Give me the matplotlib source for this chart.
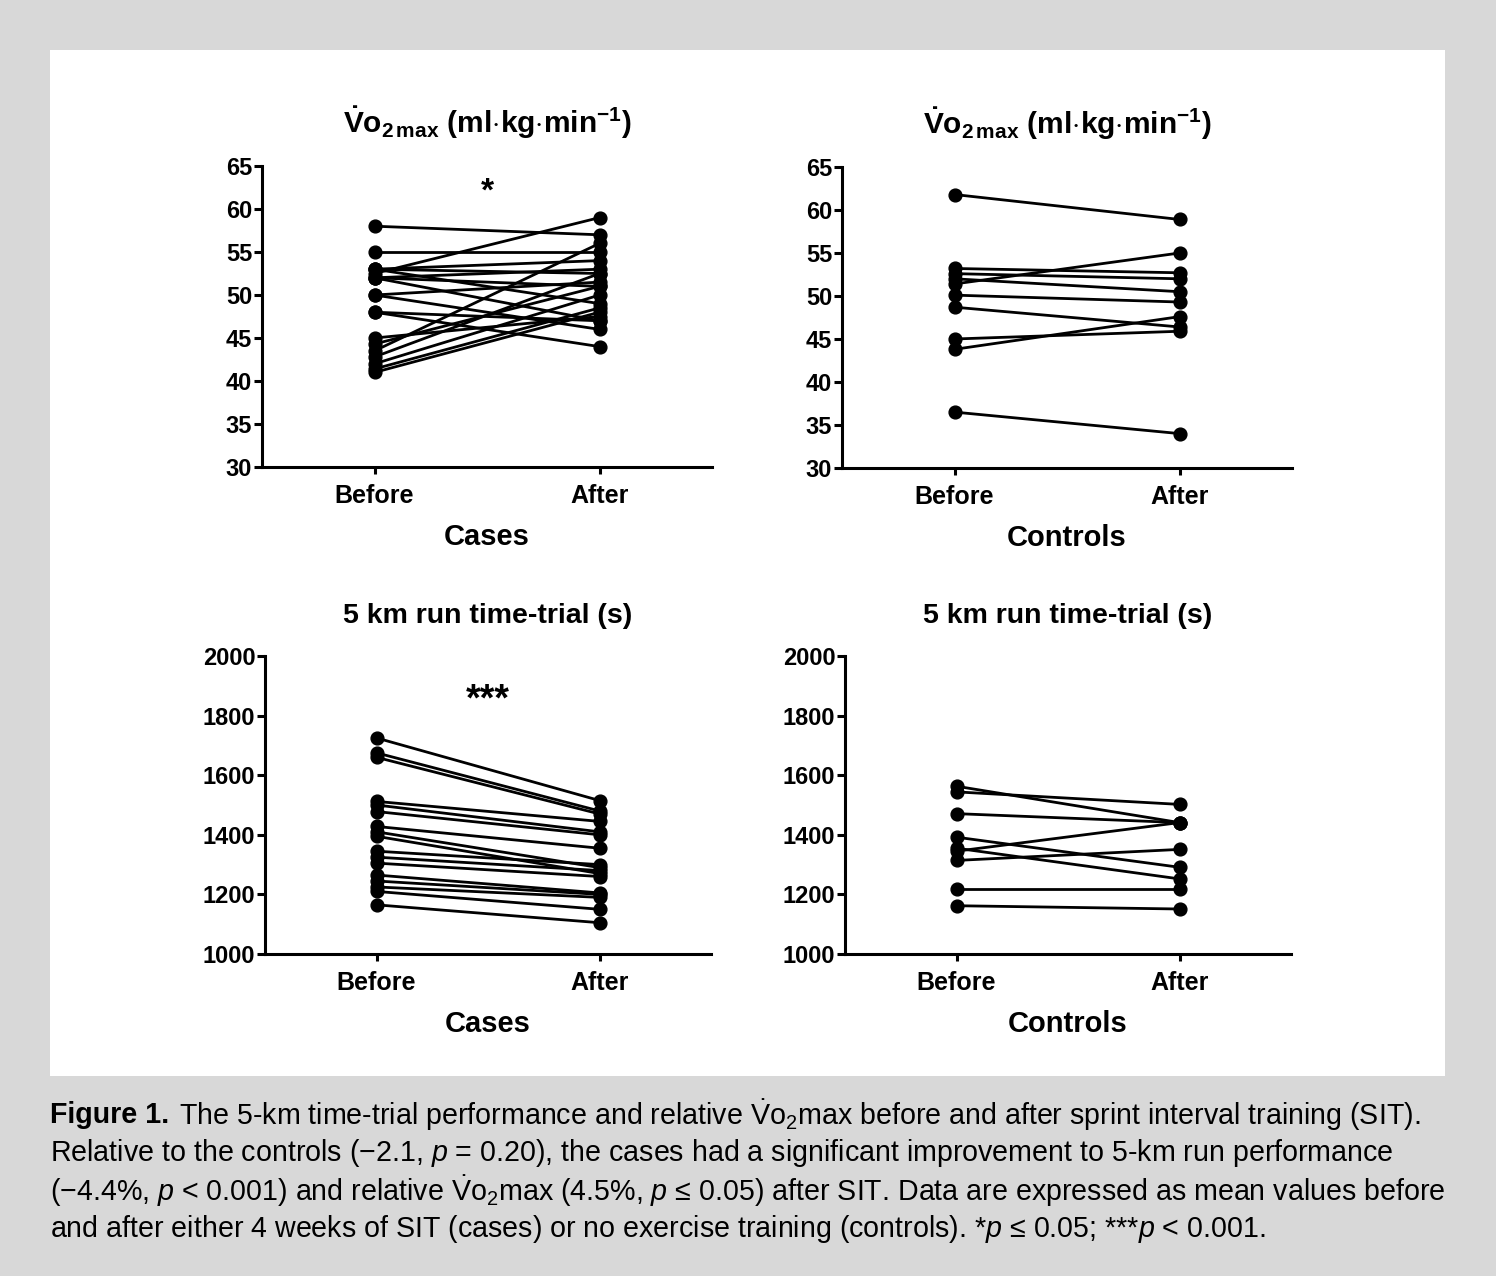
import matplotlib
matplotlib.use("Agg")
import matplotlib.pyplot as plt
from matplotlib.patches import Rectangle

plt.rcParams['font.family'] = ['Liberation Sans', 'DejaVu Sans']
plt.rcParams['mathtext.fontset'] = 'custom'
plt.rcParams['mathtext.rm'] = 'Liberation Sans'
plt.rcParams['mathtext.it'] = 'Liberation Sans:italic'
plt.rcParams['mathtext.bf'] = 'Liberation Sans:bold'
plt.rcParams['mathtext.sf'] = 'Liberation Sans'

# ---------------- data ----------------
timepoints = ["Before", "After"]

cases_vo2_before = [58, 55, 53, 53, 52.5, 52, 52, 52, 53, 50, 50, 48, 48,
                    45, 44.3, 43.5, 42.8, 42, 41.4, 41]
cases_vo2_after = [57, 55, 54, 52.5, 59, 51, 53, 47, 49, 51.5, 46, 44, 47,
                   47.5, 51, 56, 52.5, 50, 48.5, 48]

controls_vo2_before = [61.8, 53.2, 52.6, 52.0, 51.4, 50.1, 48.7, 45.0, 43.8, 36.5]
controls_vo2_after = [58.9, 52.7, 52.0, 50.5, 55.0, 49.3, 46.4, 45.9, 47.6, 34.0]

cases_run_before = [1725, 1675, 1660, 1512, 1500, 1478, 1428, 1410, 1395, 1345,
                    1325, 1305, 1265, 1245, 1225, 1210, 1165]
cases_run_after = [1515, 1480, 1470, 1445, 1410, 1400, 1355, 1290, 1270, 1300,
                   1280, 1260, 1205, 1200, 1190, 1150, 1105]

controls_run_before = [1563, 1544, 1471, 1392, 1355, 1345, 1314, 1219, 1162]
controls_run_after = [1441, 1502, 1441, 1291, 1252, 1441, 1351, 1219, 1151]

vo2_ticks = [30, 35, 40, 45, 50, 55, 60, 65]
run_ticks = [1000, 1200, 1400, 1600, 1800, 2000]

vo2_title = r'$\mathbf{\dot{V}o_{2\,max}\ (ml{\cdot}kg{\cdot}min^{-1})}$'
run_title = "5 km run time-trial (s)"

caption_head = "Figure 1."
caption_lines = [
    r"The 5-km time-trial performance and relative $\dot{\mathrm{V}}\mathrm{o}_2$max before and after sprint interval training (SIT).",
    r"Relative to the controls (−2.1, $p$ = 0.20), the cases had a significant improvement to 5-km run performance",
    r"(−4.4%, $p$ < 0.001) and relative $\dot{\mathrm{V}}\mathrm{o}_2$max (4.5%, $p$ ≤ 0.05) after SIT. Data are expressed as mean values before",
    r"and after either 4 weeks of SIT (cases) or no exercise training (controls). *$p$ ≤ 0.05; ***$p$ < 0.001.",
]

W, H = 1496, 1276
fig = plt.figure(figsize=(W / 100, H / 100), dpi=100)
fig.patch.set_facecolor('#d8d8d8')
fig.patches.append(Rectangle((50 / W, 1 - 1076 / H), (1445 - 50) / W, (1076 - 50) / H,
                             transform=fig.transFigure, facecolor='white',
                             edgecolor='none', zorder=-5))


def px_axes(x0, y0, x1, y1):
    return fig.add_axes([x0 / W, 1 - y1 / H, (x1 - x0) / W, (y1 - y0) / H])


def panel(ax, before, after, ylim, ticks, title, xlabel, title_fs,
          star=None, star_y=None, star_fs=22):
    for b, a in zip(before, after):
        ax.plot([0, 1], [b, a], color='black', lw=2.0, marker='o', ms=9.2,
                clip_on=False, zorder=3)
    ax.set_xlim(-0.5, 1.5)
    ax.set_ylim(*ylim)
    ax.set_yticks(ticks)
    ax.set_xticks([0, 1])
    ax.set_xticklabels(timepoints)
    for s in ['top', 'right']:
        ax.spines[s].set_visible(False)
    for s in ['left', 'bottom']:
        ax.spines[s].set_linewidth(2.2)
    ax.tick_params(axis='y', width=2.2, length=5.5, pad=1.5, labelsize=17)
    ax.tick_params(axis='x', width=2.2, length=5.0, pad=7, labelsize=18)
    for lab in ax.get_yticklabels() + ax.get_xticklabels():
        lab.set_fontweight('bold')
    ax.set_xlabel(xlabel, fontsize=21, fontweight='bold', labelpad=11)
    ax.set_title(title, fontsize=title_fs, fontweight='bold', pad=24)
    if star:
        ax.text(0.5, star_y, star, ha='center', va='center', fontsize=star_fs,
                fontweight='bold')
    ax.set_facecolor('none')


ax1 = px_axes(262, 166, 712, 467)
panel(ax1, cases_vo2_before, cases_vo2_after, (30, 65), vo2_ticks, vo2_title,
      "Cases", 21.5, "*", 62.0, 24)
ax2 = px_axes(842, 167, 1292, 468)
panel(ax2, controls_vo2_before, controls_vo2_after, (30, 65), vo2_ticks, vo2_title,
      "Controls", 21.5)
ax3 = px_axes(265, 656, 711, 954)
panel(ax3, cases_run_before, cases_run_after, (1000, 2000), run_ticks, run_title,
      "Cases", 20.5, "***", 1850, 27)
ax4 = px_axes(845, 656, 1291, 954)
panel(ax4, controls_run_before, controls_run_after, (1000, 2000), run_ticks, run_title,
      "Controls", 20.5)

# caption
cap_fs = 20.6
cap_y = [1115, 1153, 1191, 1229]
head = fig.text(50 / W, 1 - cap_y[0] / H, caption_head, fontsize=cap_fs,
                fontweight='bold', va='center', ha='left')
renderer = fig.canvas.get_renderer()
bb = head.get_window_extent(renderer)
fig.text((bb.x1 + 10) / W, 1 - cap_y[0] / H, caption_lines[0], fontsize=cap_fs,
         va='center', ha='left')
for yy, line in zip(cap_y[1:], caption_lines[1:]):
    fig.text(50 / W, 1 - yy / H, line, fontsize=cap_fs, va='center', ha='left')

fig.savefig("out.png", dpi=100, facecolor=fig.get_facecolor())
